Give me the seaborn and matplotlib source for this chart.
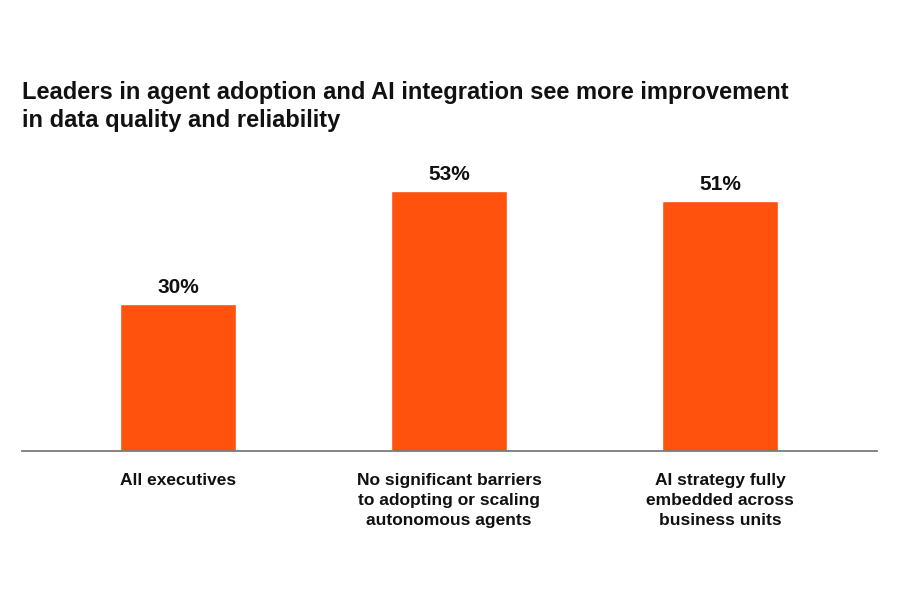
import matplotlib.pyplot as plt
import seaborn as sns
import pandas as pd

# chart data
categories = [
    "All executives",
    "No significant barriers\nto adopting or scaling\nautonomous agents",
    "AI strategy fully\nembedded across\nbusiness units",
]
values = [30, 53, 51]
value_labels = ["30%", "53%", "51%"]

title = ("Leaders in agent adoption and AI integration see more improvement\n"
         "in data quality and reliability")

BAR_COLOR = "#FE520D"

sns.set_theme(style="white")
plt.rcParams["font.family"] = ["Liberation Sans", "DejaVu Sans"]

df = pd.DataFrame({"group": categories, "pct": values})

fig = plt.figure(figsize=(9, 6), dpi=100)
ax = fig.add_axes([0.0244, 0.2483, 0.95, 0.5183])

sns.barplot(data=df, x="group", y="pct", color=BAR_COLOR, width=0.43,
            saturation=1, ax=ax)

for patch, lab in zip(ax.patches, value_labels):
    ax.annotate(lab, (patch.get_x() + patch.get_width() / 2, patch.get_height()),
                xytext=(0, 5), textcoords="offset points",
                ha="center", va="bottom", fontsize=15, fontweight="bold",
                color="#111111")

ax.set_xlim(-0.576, 2.579)
ax.set_ylim(0, 63.4)
ax.set_xlabel("")
ax.set_ylabel("")
ax.set_yticks([])
for side in ["top", "left", "right"]:
    ax.spines[side].set_visible(False)
ax.spines["bottom"].set_color("#7a7a7a")
ax.spines["bottom"].set_linewidth(1.3)
ax.tick_params(axis="x", length=0, pad=16)
for t in ax.get_xticklabels():
    t.set_fontsize(12.5)
    t.set_fontweight("bold")
    t.set_color("#111111")
    t.set_linespacing(1.42)

fig.text(0.0244, 0.865, title, ha="left", va="top", fontsize=17,
         fontweight="bold", color="#111111", linespacing=1.25)

fig.savefig("out.png", dpi=100, facecolor="white")
